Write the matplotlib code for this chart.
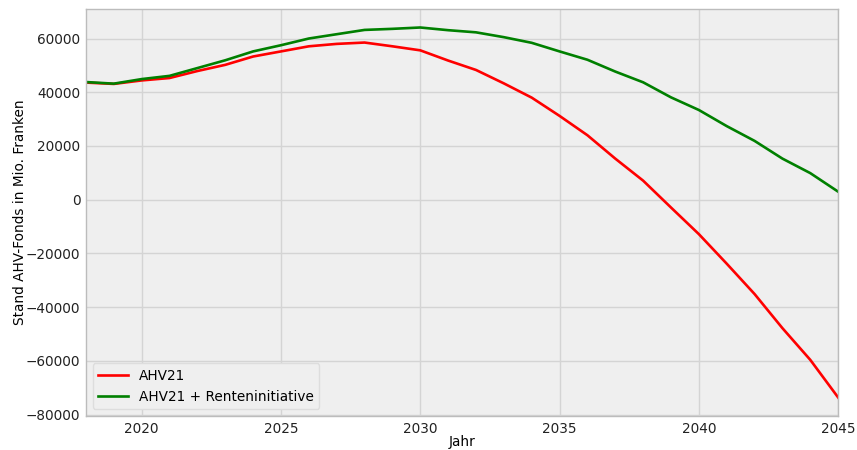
import matplotlib
matplotlib.use("Agg")
import matplotlib.pyplot as plt

# Stand des AHV-Fonds in Mio. Franken
jahre = list(range(2018, 2046))

ahv21 = [43600, 43100, 44400, 45300, 47900, 50200, 53300, 55200, 57100, 58000,
         58500, 57100, 55600, 51800, 48300, 43300, 38000, 31200, 24000, 15300,
         7100, -2900, -12800, -23800, -35100, -47800, -59600, -73600]

ahv21_renten = [43800, 43200, 44900, 46100, 49000, 51900, 55200, 57500, 60000, 61600,
                63200, 63600, 64100, 63100, 62300, 60500, 58400, 55200, 52100, 47700,
                43700, 38100, 33400, 27400, 21900, 15300, 9900, 3000]

fig = plt.figure(figsize=(8.57, 4.5), dpi=100)
ax = fig.add_axes([0.1003, 0.0756, 0.8777, 0.9044])

ax.set_facecolor('#efefef')
ax.plot(jahre, ahv21, color='red', lw=1.9, label='AHV21')
ax.plot(jahre, ahv21_renten, color='green', lw=1.9, label='AHV21 + Renteninitiative')

ax.set_xlim(2018, 2045)
ax.margins(x=0)
ax.set_xticks([2020, 2025, 2030, 2035, 2040, 2045])
ax.set_yticks(range(-80000, 60001, 20000))

ax.grid(True, color='#d4d4d4', lw=1)
ax.set_axisbelow(True)
ax.tick_params(length=0, labelsize=9.8, colors='#222222', pad=4)
for s in ax.spines.values():
    s.set_color('#bcbcbc')
    s.set_linewidth(1)

ax.set_xlabel('Jahr', fontsize=9.8)
ax.xaxis.set_label_coords(0.5, -0.047)
ax.set_ylabel('Stand AHV-Fonds in Mio. Franken', fontsize=9.8)
ax.yaxis.set_label_coords(-0.079, 0.5)

leg = ax.legend(loc='lower left', fontsize=9.8, facecolor='#efefef',
                edgecolor='#dddddd', framealpha=1, handlelength=2.2)

fig.savefig('out.png', dpi=100, facecolor='white')
